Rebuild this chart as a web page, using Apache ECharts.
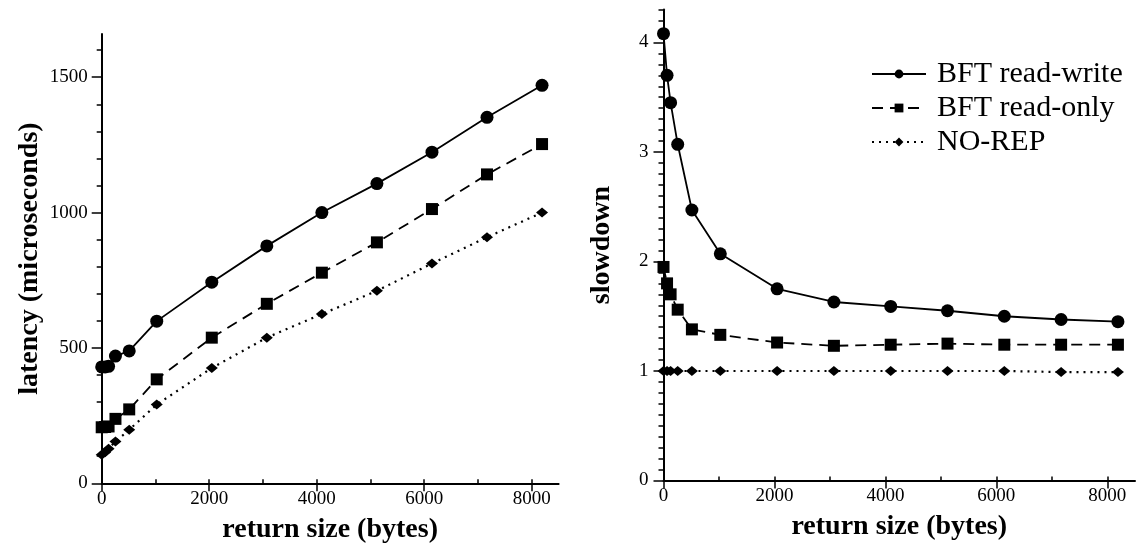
<!DOCTYPE html>
<html>
<head>
<meta charset="utf-8">
<script src="https://cdn.jsdelivr.net/npm/echarts@6/dist/echarts.min.js"></script>
<style>
html, body { margin: 0; background: #fff; }
#container { width: 1141px; height: 554px; }
</style>
</head>
<body>
<div id="container"></div>
<script>
// return sizes (bytes)
var sizes = [0, 64, 128, 256, 512, 1024, 2048, 3072, 4096, 5120, 6144, 7168, 8192];
// latency (microseconds)
var latencyRW = [430, 430, 432, 470, 489, 599, 743, 877, 1000, 1107, 1223, 1352, 1470];
var latencyRO = [207, 208, 210, 238, 273, 384, 538, 663, 778, 890, 1013, 1141, 1253];
var latencyNR = [105, 115, 128, 154, 198, 291, 426, 538, 625, 711, 812, 909, 1000];
// slowdown relative to NO-REP
var slowRW = [4.08, 3.70, 3.45, 3.07, 2.47, 2.07, 1.75, 1.63, 1.59, 1.55, 1.50, 1.47, 1.45];
var slowRO = [1.95, 1.80, 1.70, 1.56, 1.38, 1.33, 1.26, 1.23, 1.24, 1.25, 1.24, 1.24, 1.24];
var slowNR = [1.0, 1.0, 1.0, 1.0, 1.0, 1.0, 1.0, 1.0, 1.0, 1.0, 1.0, 0.99, 0.99];

var seriesNames = ['BFT read-write', 'BFT read-only', 'NO-REP'];
var sizeTicks = [0, 2000, 4000, 6000, 8000];
var latencyTicks = [0, 500, 1000, 1500];
var slowdownTicks = [0, 1, 2, 3, 4];

var FONT = "'Liberation Serif', 'Times New Roman', serif";

function steps(from, to, step) {
    var out = [];
    for (var v = from; v <= to + 1e-9; v += step) out.push(+v.toFixed(4));
    return out;
}

function pairs(ys) {
    return sizes.map(function (x, i) { return [x, ys[i]]; });
}

function plain(v) { return String(v); }

var marks = [
    { symbol: 'circle', symbolSize: 13, dash: 'solid', width: 1.8 },
    { symbol: 'rect', symbolSize: 12, dash: [11, 7], width: 1.8 },
    { symbol: 'diamond', symbolSize: [12, 10], dash: [2, 5], width: 2.2 }
];

function lineSeries(k, data, xi, yi) {
    return {
        name: seriesNames[k],
        type: 'line',
        xAxisIndex: xi,
        yAxisIndex: yi,
        data: pairs(data),
        symbol: marks[k].symbol,
        symbolSize: marks[k].symbolSize,
        showAllSymbol: true,
        itemStyle: { color: '#000' },
        lineStyle: { color: '#000', width: marks[k].width, type: marks[k].dash },
        z: 3
    };
}

function majorX(grid, name, max) {
    return {
        type: 'value', gridIndex: grid, min: 0, max: max, position: 'bottom',
        splitLine: { show: false },
        axisLine: { lineStyle: { color: '#000', width: 2 } },
        axisTick: { customValues: sizeTicks, length: 8, lineStyle: { color: '#000', width: 1.5 } },
        axisLabel: { customValues: sizeTicks, formatter: plain, margin: 6, color: '#000', fontSize: 19, fontFamily: FONT },
        name: name, nameLocation: 'middle', nameGap: 32,
        nameTextStyle: { color: '#000', fontSize: 28, fontWeight: 'bold', fontFamily: FONT }
    };
}
function minorX(grid, max) {
    return {
        type: 'value', gridIndex: grid, min: 0, max: max, position: 'bottom',
        splitLine: { show: false }, axisLine: { show: false }, axisLabel: { show: false },
        axisTick: { customValues: steps(0, 8000, 1000), inside: true, length: 4, lineStyle: { color: '#000', width: 1.5 } }
    };
}
function majorY(grid, name, max, ticks, gap, labelMargin) {
    return {
        type: 'value', gridIndex: grid, min: 0, max: max, position: 'left',
        splitLine: { show: false },
        axisLine: { lineStyle: { color: '#000', width: 2 } },
        axisTick: { customValues: ticks, length: 10, lineStyle: { color: '#000', width: 1.5 } },
        axisLabel: { customValues: ticks, formatter: plain, margin: labelMargin, color: '#000', fontSize: 19, fontFamily: FONT },
        name: name, nameLocation: 'middle', nameGap: gap,
        nameTextStyle: { color: '#000', fontSize: 28, fontWeight: 'bold', fontFamily: FONT }
    };
}
function minorY(grid, max, ticks) {
    return {
        type: 'value', gridIndex: grid, min: 0, max: max, position: 'left',
        splitLine: { show: false }, axisLine: { show: false }, axisLabel: { show: false },
        axisTick: { customValues: ticks, length: 5, lineStyle: { color: '#000', width: 1.5 } }
    };
}

var chart = echarts.init(document.getElementById('container'));
chart.setOption({
    animation: false,
    backgroundColor: '#fff',
    legend: {
        data: seriesNames,
        orient: 'vertical',
        left: 866,
        top: 54,
        itemWidth: 54,
        itemHeight: 11,
        itemGap: 4,
        selectedMode: false,
        textStyle: { color: '#000', fontSize: 30, fontFamily: FONT, padding: [0, 0, 0, 6] }
    },
    grid: [
        { left: 101.7, top: 33.9, width: 456.9, height: 449.4 },
        { left: 663.5, top: 9.6, width: 471.5, height: 470.9 }
    ],
    xAxis: [
        majorX(0, 'return size (bytes)', 8500),
        minorX(0, 8500),
        majorX(1, 'return size (bytes)', 8500),
        minorX(1, 8500)
    ],
    yAxis: [
        majorY(0, 'latency (microseconds)', 1660, latencyTicks, 58, 14),
        minorY(0, 1660, steps(0, 1600, 100)),
        majorY(1, 'slowdown', 4.3, slowdownTicks, 48, 15),
        minorY(1, 4.3, steps(0, 4.3, 0.1))
    ],
    series: [
        lineSeries(0, latencyRW, 0, 0),
        lineSeries(1, latencyRO, 0, 0),
        lineSeries(2, latencyNR, 0, 0),
        lineSeries(0, slowRW, 2, 2),
        lineSeries(1, slowRO, 2, 2),
        lineSeries(2, slowNR, 2, 2)
    ]
});
</script>
</body>
</html>
